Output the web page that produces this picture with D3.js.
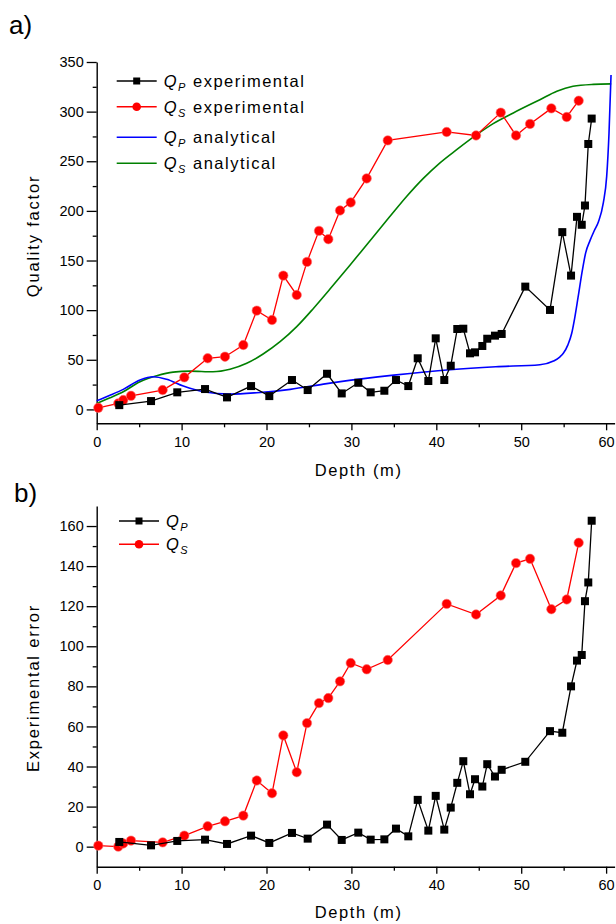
<!DOCTYPE html>
<html><head><meta charset="utf-8">
<script src="https://cdn.jsdelivr.net/npm/d3@7"></script>
<style>
html,body{margin:0;padding:0;background:#fff;}
svg text{font-family:"Liberation Sans",Arial,sans-serif;fill:#000;}
</style></head>
<body><svg id="c" width="616" height="924"></svg>
<script>
// ---------- data ----------
const depthP = [2.66,6.4,9.49,12.76,15.35,18.18,20.33,23.0,24.85,27.13,28.86,30.81,32.27,33.88,35.25,36.7,37.81,39.06,39.93,40.94,41.7,42.47,43.18,43.97,44.56,45.42,46.0,46.91,47.7,50.48,53.39,54.84,55.87,56.57,57.13,57.51,57.9,58.3];
const qpExp  = [4.3,8.4,17.2,20.5,12.1,23.5,13.4,29.6,19.5,35.9,16.1,26.8,17.2,18.8,29.6,23.5,51.5,28.6,71.6,29.6,44,81,81.3,56.5,57.5,63.9,71.2,74.3,76,123.7,100.2,178.6,134.8,194,186,205.4,267.4,293];
const qpErr  = [2.35,0.65,2.85,3.5,1.35,5.5,1.85,6.85,4,11,3.35,7,3.5,3.65,9,5.15,23.35,8,25.35,8.5,19.5,31.85,42.65,26.15,33.65,30,41.15,35,38.35,42.35,57.65,56.85,80,92.85,95.65,122.5,131.85,162.65];
const depthS = [0.19,2.54,3.13,4.04,7.77,10.32,13.07,15.11,17.27,18.85,20.65,21.98,23.56,24.77,26.18,27.28,28.66,29.92,31.8,34.28,41.22,44.68,47.59,49.39,51.04,53.55,55.36,56.77];
const qsExp  = [1.6,6.1,9.4,13.7,19.5,32.3,51.5,53.1,64.9,99.5,90.1,134.8,115.3,148.6,179.9,171.5,200.4,208.5,232.7,271,279.5,276,299,276,287.6,303.3,294.6,311];
const qsErr  = [0.5,0,1.6,3,2.15,5.5,10.15,12.65,15.5,33,26.65,55.5,37.15,61.65,71.65,74.15,82.5,91.65,88.5,93.15,121.15,115.85,125.35,141.5,143.65,118.5,123.35,151.65];
const anaDepthP = [0,1.5,3.13,5.1,6.67,8.24,10.2,12.56,15.7,18.85,22.8,26.7,28.7,35,41.6,47,52.2,53.8,54.57,54.96,55.5,55.95,56.3,56.7,57.2,57.6,58.1,58.6,59.1,59.67,60.07,60.34,60.58];
const qpAna     = [8.7,14,20.2,29.6,32.9,30.3,23.5,17.8,15.4,16.8,20.2,25.5,28,34.5,40,43,45,48.7,53,56.5,65,76.7,92,113,140,158,170,180,189,208,235,278,337];
const anaDepthS = [0,1.5,3.13,5.1,7.07,9,11,13.7,15.7,17.67,19.6,21.6,23.56,25.5,27.5,29.8,32,34.5,36.5,38.5,40.4,42.4,44.76,46.7,49.07,52.2,54.2,56.1,58.5,60.6];
const qsAna     = [6,11.5,17.8,27.9,33.9,37.6,38.6,37.9,40.4,46.4,55.8,68.2,83.4,101.5,121.5,145,168,194,214.5,233,248.2,261.7,276.8,287.9,298.7,312,320.5,325.5,327.5,328];
const xTicks = [0,10,20,30,40,50,60];
const xMinor = [5,15,25,35,45,55];
const yTopTicks = [0,50,100,150,200,250,300,350];
const yTopMinor = [25,75,125,175,225,275,325];
const yBotTicks = [0,20,40,60,80,100,120,140,160];
const yBotMinor = [10,30,50,70,90,110,130,150];

// ---------- drawing ----------
const svg = d3.select("#c");
const x = d3.scaleLinear().domain([0,61]).range([96.7,614.6]);
const yTop = d3.scaleLinear().domain([-14,350]).range([423.3,62]);
const yBot = d3.scaleLinear().domain([-10,170]).range([866.7,506]);

function axes(y, yT, yM, xLabelY, yLabel, yLabelCY){
  const bottom = y.range()[0];
  const gx = svg.append("g").attr("transform",`translate(0,${bottom})`);
  gx.call(d3.axisBottom(x).tickValues(xTicks).tickSize(7).tickSizeOuter(0).tickPadding(6).tickFormat(d3.format("d")));
  const gxm = svg.append("g").attr("transform",`translate(0,${bottom})`);
  gxm.call(d3.axisBottom(x).tickValues(xMinor).tickSize(4).tickSizeOuter(0).tickFormat(""));
  gxm.select(".domain").remove();
  const gy = svg.append("g").attr("transform",`translate(${x.range()[0]},0)`);
  gy.call(d3.axisLeft(y).tickValues(yT).tickSize(10).tickSizeOuter(0).tickPadding(3).tickFormat(d3.format("d")));
  const gym = svg.append("g").attr("transform",`translate(${x.range()[0]},0)`);
  gym.call(d3.axisLeft(y).tickValues(yM).tickSize(4).tickSizeOuter(0).tickFormat(""));
  gym.select(".domain").remove();
  svg.selectAll("g .domain").attr("stroke","#000").attr("stroke-width",1.4);
  svg.selectAll("g .tick line").attr("stroke","#000").attr("stroke-width",1.3);
  [gx,gy].forEach(g=>g.selectAll("text").attr("font-size",14.5).attr("font-family","Liberation Sans, Arial, sans-serif").attr("fill","#000"));
  svg.append("text").attr("x",(x.range()[0]+x.range()[1])/2+3).attr("y",xLabelY)
    .attr("text-anchor","middle").attr("font-size",16.5).style("letter-spacing","1.6px").text("Depth (m)");
  svg.append("text").attr("transform",`translate(39,${yLabelCY}) rotate(-90)`)
    .attr("text-anchor","middle").attr("font-size",16.5).style("letter-spacing","1.8px").text(yLabel);
}

function series(y, xs, ys, color, marker){
  const pts = xs.map((d,i)=>[d, ys[i]]);
  svg.append("path").datum(pts).attr("fill","none").attr("stroke",color).attr("stroke-width",1.3)
    .attr("d", d3.line().x(d=>x(d[0])).y(d=>y(d[1])));
  const g = svg.append("g");
  if(marker==="square"){
    g.selectAll("rect").data(pts).join("rect")
      .attr("x",d=>x(d[0])-4).attr("y",d=>y(d[1])-4).attr("width",8).attr("height",8).attr("fill",color);
  } else {
    g.selectAll("circle").data(pts).join("circle")
      .attr("cx",d=>x(d[0])).attr("cy",d=>y(d[1])).attr("r",4.7).attr("fill",color)
      .attr("stroke","#ff7070").attr("stroke-width",0.6);
  }
}
function curve(y, xs, ys, color){
  const pts = xs.map((d,i)=>[d, ys[i]]);
  svg.append("path").datum(pts).attr("fill","none").attr("stroke",color).attr("stroke-width",1.6)
    .attr("d", d3.line().curve(d3.curveMonotoneX).x(d=>x(d[0])).y(d=>y(d[1])));
}
function legendRow(lx, ly, color, marker, sub, rest){
  svg.append("line").attr("x1",lx).attr("x2",lx+40).attr("y1",ly).attr("y2",ly)
    .attr("stroke",color).attr("stroke-width",1.4);
  if(marker==="square") svg.append("rect").attr("x",lx+16.5).attr("y",ly-3.5).attr("width",7).attr("height",7).attr("fill",color);
  if(marker==="circle") svg.append("circle").attr("cx",lx+20).attr("cy",ly).attr("r",4.3).attr("fill",color);
  const t = svg.append("text").attr("x",lx+47).attr("y",ly+6).attr("font-size",16.5).style("letter-spacing","1.5px");
  t.append("tspan").attr("font-style","italic").text("Q");
  t.append("tspan").attr("font-style","italic").attr("font-size",11).attr("dy",4).text(sub);
  if(rest) t.append("tspan").attr("dy",-4).text(" "+rest);
}

// panel a
svg.append("text").attr("x",9).attr("y",34).attr("font-size",26).text("a)");
axes(yTop, yTopTicks, yTopMinor, 476, "Quality factor", 236);
curve(yTop, anaDepthS, qsAna, "#008000");
curve(yTop, anaDepthP, qpAna, "#0000ff");
series(yTop, depthS, qsExp, "#ff0000", "circle");
series(yTop, depthP, qpExp, "#000000", "square");
legendRow(116.7, 81, "#000", "square", "P", "experimental");
legendRow(116.7, 106.7, "#ff0000", "circle", "S", "experimental");
legendRow(116.7, 137.3, "#0000ff", null, "P", "analytical");
legendRow(116.7, 163.3, "#008000", null, "S", "analytical");

// panel b
svg.append("text").attr("x",14).attr("y",502).attr("font-size",26).text("b)");
axes(yBot, yBotTicks, yBotMinor, 918, "Experimental error", 688);
series(yBot, depthS, qsErr, "#ff0000", "circle");
series(yBot, depthP, qpErr, "#000000", "square");
legendRow(119, 521, "#000", "square", "P", null);
legendRow(119, 544.3, "#ff0000", "circle", "S", null);
</script></body></html>
